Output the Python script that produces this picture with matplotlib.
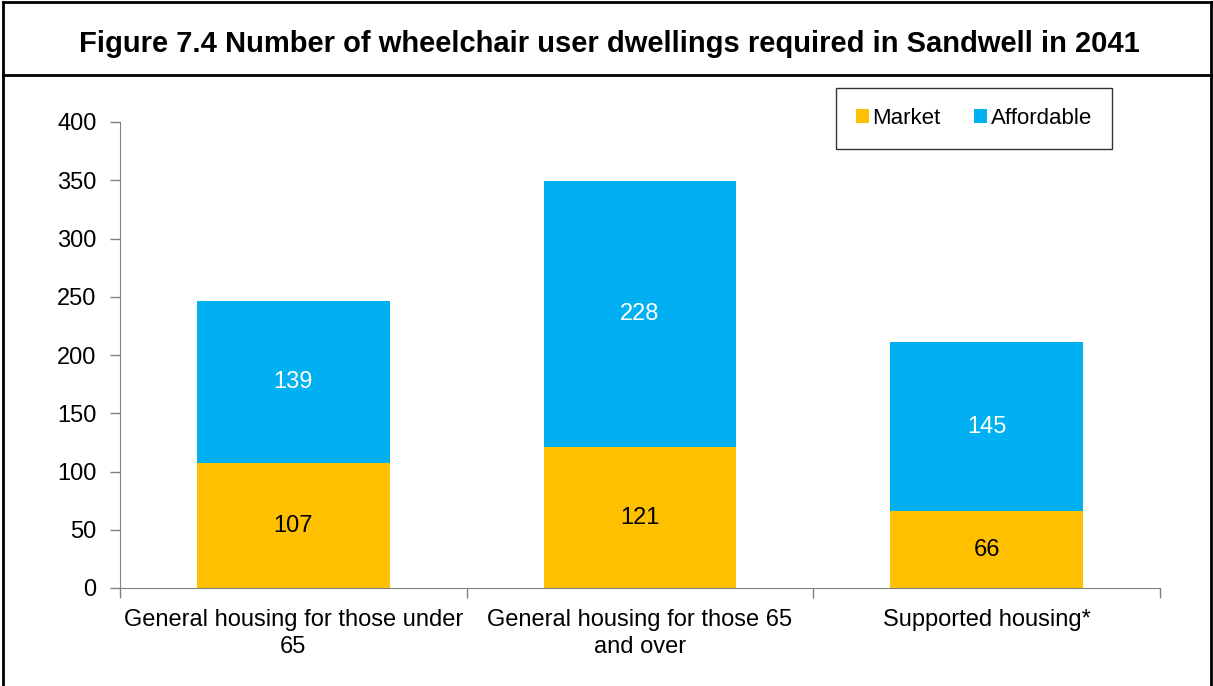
import matplotlib.pyplot as plt
from matplotlib.lines import Line2D
import numpy as np

categories = ["General housing for those under\n65", "General housing for those 65\nand over", "Supported housing*"]
market = [107, 121, 66]
affordable = [139, 228, 145]
yticks = [0, 50, 100, 150, 200, 250, 300, 350, 400]

plt.rcParams['font.family'] = ['Liberation Sans', 'DejaVu Sans']

W, H = 1213, 686
fig = plt.figure(figsize=(W / 100, H / 100), dpi=100)

# outer frame and title box
fig.add_artist(Line2D([3 / W, 3 / W], [0, 1 - 2 / H], color='black', lw=2))
fig.add_artist(Line2D([1 - 2 / W, 1 - 2 / W], [0, 1 - 2 / H], color='black', lw=2))
fig.add_artist(Line2D([3 / W, 1 - 2 / W], [1 - 2 / H, 1 - 2 / H], color='black', lw=2))
fig.add_artist(Line2D([3 / W, 1 - 2 / W], [1 - 75 / H, 1 - 75 / H], color='black', lw=2))
fig.text(0.5 + 3 / W, 1 - 44 / H, "Figure 7.4 Number of wheelchair user dwellings required in Sandwell in 2041",
         ha='center', va='center', fontsize=21, fontweight='bold')

ax = fig.add_axes([120 / W, 1 - 588 / H, (1160 - 120) / W, (588 - 122) / H])
x = np.arange(len(categories))
width = 0.555
ax.bar(x, market, width, color='#FFC000', label='Market')
ax.bar(x, affordable, width, bottom=market, color='#00B0F0', label='Affordable')

for i in range(len(categories)):
    ax.text(x[i], market[i] / 2, str(market[i]), ha='center', va='center', fontsize=17, color='black')
    ax.text(x[i], market[i] + affordable[i] / 2, str(affordable[i]), ha='center', va='center',
            fontsize=17, color='white')

ax.set_xlim(-0.5, len(categories) - 0.5)
ax.set_ylim(0, 400)
ax.set_yticks(yticks)
ax.tick_params(axis='y', labelsize=17, length=7, color='#808080', width=1, pad=10)
ax.set_xticks(x)
ax.set_xticklabels(categories, fontsize=17, linespacing=1.3)
ax.tick_params(axis='x', length=0, pad=15)
# category separators on the x axis
ax.set_xticks(np.arange(-0.5, len(categories)), minor=True)
ax.tick_params(axis='x', which='minor', length=7, color='#808080', width=1)
for s in ['top', 'right']:
    ax.spines[s].set_visible(False)
ax.spines['left'].set_color('#808080')
ax.spines['bottom'].set_color('#808080')

leg = ax.legend(loc='upper right', bbox_to_anchor=(1112 / W, 1 - 88 / H), bbox_transform=fig.transFigure,
                ncol=2, fontsize=16, frameon=True, fancybox=False, edgecolor='black',
                handlelength=0.6, handleheight=0.6, handletextpad=0.15, columnspacing=1.5,
                borderpad=0.9, borderaxespad=0)
leg.get_frame().set_linewidth(1)

fig.savefig('out.png', dpi=100)
